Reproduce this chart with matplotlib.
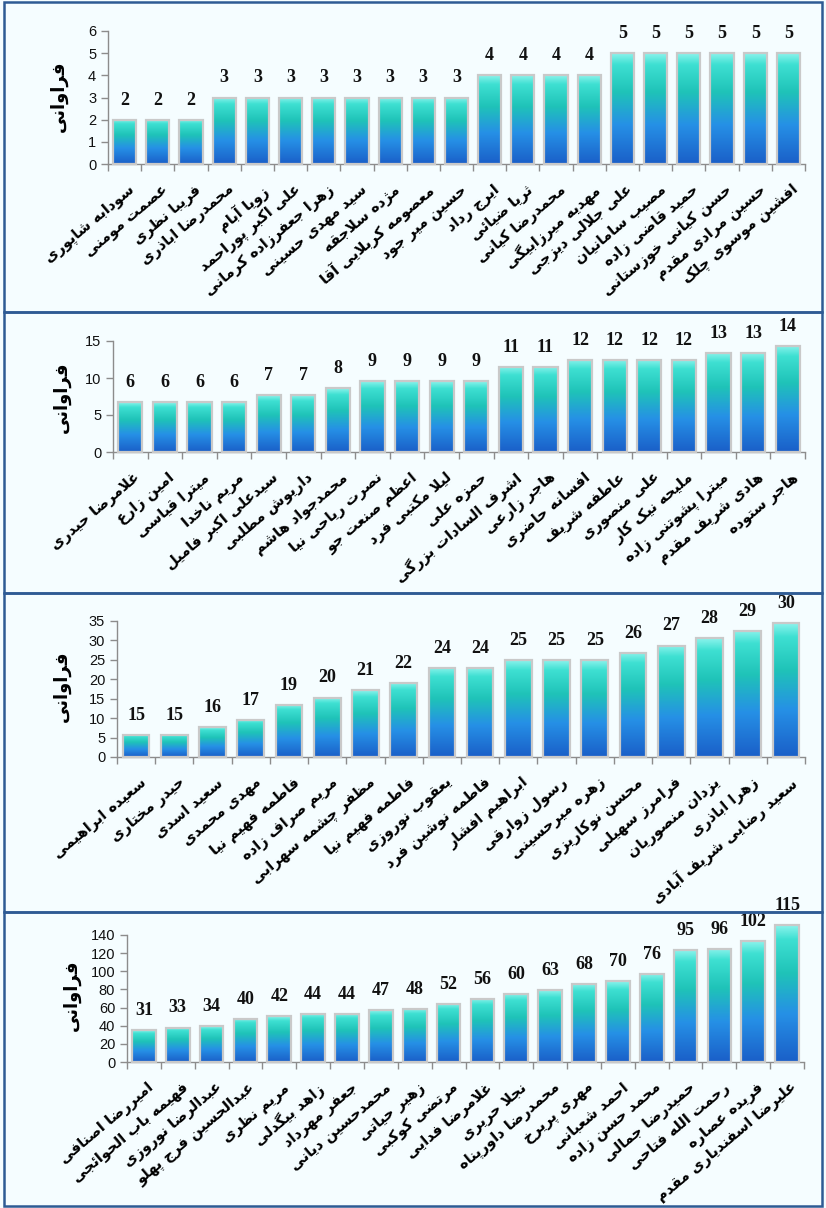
import matplotlib
matplotlib.use("Agg")
import matplotlib.pyplot as plt
import numpy as np
from matplotlib.colors import LinearSegmentedColormap
from matplotlib.patches import Rectangle
import matplotlib.transforms as mtransforms

# ---------------- data ----------------
names1 = ["سودابه شاپوری", "عصمت مومنی", "فریبا نظری", "محمدرضا اباذری", "زویا آبام",
          "علی اکبر پوراحمد", "زهرا جعفرزاده کرمانی", "سید مهدی حسینی", "مژده سلاجقه",
          "معصومه کربلایی آقا", "حسین میر جود", "ایرج رداد", "ثریا ضیائی", "محمدرضا کیانی",
          "مهدیه میرزابیگی", "علی جلالی دیزجی", "مصیب سامانیان", "حمید قاضی زاده",
          "حسن کیانی خوزستانی", "حسین مرادی مقدم", "افشین موسوی چلک"]
values1 = [2, 2, 2, 3, 3, 3, 3, 3, 3, 3, 3, 4, 4, 4, 4, 5, 5, 5, 5, 5, 5]

names2 = ["غلامرضا حیدری", "امین زارع", "میترا قیاسی", "مریم ناخدا", "سیدعلی اکبر فامیل",
          "داریوش مطلبی", "محمدجواد هاشم", "نصرت ریاحی نیا", "اعظم صنعت جو", "لیلا مکتبی فرد",
          "حمزه علی", "اشرف السادات بزرگی", "هاجر زارعی", "افسانه حاضری", "عاطفه شریف",
          "علی منصوری", "ملیحه نیک کار", "میترا پشوتنی زاده", "هادی شریف مقدم", "هاجر ستوده"]
values2 = [6, 6, 6, 6, 7, 7, 8, 9, 9, 9, 9, 11, 11, 12, 12, 12, 12, 13, 13, 14]

names3 = ["سعیده ابراهیمی", "حیدر مختاری", "سعید اسدی", "مهدی محمدی", "فاطمه فهیم نیا",
          "مریم صراف زاده", "مظفر چشمه سهرابی", "فاطمه فهیم نیا", "یعقوب نوروزی",
          "فاطمه نوشین فرد", "ابراهیم افشار", "رسول زوارقی", "زهره میرحسینی", "محسن نوکاریزی",
          "فرامرز سهیلی", "یزدان منصوریان", "زهرا اباذری", "سعید رضایی شریف آبادی"]
values3 = [15, 15, 16, 17, 19, 20, 21, 22, 24, 24, 25, 25, 25, 26, 27, 28, 29, 30]

names4 = ["امیررضا اصنافی", "فهیمه باب الحوائجی", "عبدالرضا نوروزی", "عبدالحسین فرج پهلو",
          "مریم نظری", "زاهد بیگدلی", "جعفر مهرداد", "محمدحسین دیانی", "زهیر حیاتی",
          "مرتضی کوکبی", "غلامرضا فدایی", "نجلا حریری", "محمدرضا داورپناه", "مهری پریرخ",
          "احمد شعبانی", "محمد حسن زاده", "حمیدرضا جمالی", "رحمت الله فتاحی", "فریده عصاره",
          "علیرضا اسفندیاری مقدم"]
values4 = [31, 33, 34, 40, 42, 44, 44, 47, 48, 52, 56, 60, 63, 68, 70, 76, 95, 96, 102, 115]

y_label = "فراوانی"
y_maxes = [6, 15, 35, 140]
y_steps = [1, 5, 5, 20]
# value range spanned by the bars' own (unlabelled) scale in each panel
bar_ranges = [(0, 6), (-1.1, 14.7), (12.0, 30.3), (5.4, 107.0)]

# ---------------- Persian shaping ----------------
F = {
    '\u0627': ('\uFE8D', '\uFE8E', None, None),
    '\u0622': ('\uFE81', '\uFE82', None, None),
    '\u0623': ('\uFE83', '\uFE84', None, None),
    '\u0624': ('\uFE85', '\uFE86', None, None),
    '\u0625': ('\uFE87', '\uFE88', None, None),
    '\u0626': ('\uFE89', '\uFE8A', '\uFE8B', '\uFE8C'),
    '\u0628': ('\uFE8F', '\uFE90', '\uFE91', '\uFE92'),
    '\u0629': ('\uFE93', '\uFE94', None, None),
    '\u062A': ('\uFE95', '\uFE96', '\uFE97', '\uFE98'),
    '\u062B': ('\uFE99', '\uFE9A', '\uFE9B', '\uFE9C'),
    '\u062C': ('\uFE9D', '\uFE9E', '\uFE9F', '\uFEA0'),
    '\u062D': ('\uFEA1', '\uFEA2', '\uFEA3', '\uFEA4'),
    '\u062E': ('\uFEA5', '\uFEA6', '\uFEA7', '\uFEA8'),
    '\u062F': ('\uFEA9', '\uFEAA', None, None),
    '\u0630': ('\uFEAB', '\uFEAC', None, None),
    '\u0631': ('\uFEAD', '\uFEAE', None, None),
    '\u0632': ('\uFEAF', '\uFEB0', None, None),
    '\u0633': ('\uFEB1', '\uFEB2', '\uFEB3', '\uFEB4'),
    '\u0634': ('\uFEB5', '\uFEB6', '\uFEB7', '\uFEB8'),
    '\u0635': ('\uFEB9', '\uFEBA', '\uFEBB', '\uFEBC'),
    '\u0636': ('\uFEBD', '\uFEBE', '\uFEBF', '\uFEC0'),
    '\u0637': ('\uFEC1', '\uFEC2', '\uFEC3', '\uFEC4'),
    '\u0638': ('\uFEC5', '\uFEC6', '\uFEC7', '\uFEC8'),
    '\u0639': ('\uFEC9', '\uFECA', '\uFECB', '\uFECC'),
    '\u063A': ('\uFECD', '\uFECE', '\uFECF', '\uFED0'),
    '\u0641': ('\uFED1', '\uFED2', '\uFED3', '\uFED4'),
    '\u0642': ('\uFED5', '\uFED6', '\uFED7', '\uFED8'),
    '\u0643': ('\uFED9', '\uFEDA', '\uFEDB', '\uFEDC'),
    '\u0644': ('\uFEDD', '\uFEDE', '\uFEDF', '\uFEE0'),
    '\u0645': ('\uFEE1', '\uFEE2', '\uFEE3', '\uFEE4'),
    '\u0646': ('\uFEE5', '\uFEE6', '\uFEE7', '\uFEE8'),
    '\u0647': ('\uFEE9', '\uFEEA', '\uFEEB', '\uFEEC'),
    '\u0648': ('\uFEED', '\uFEEE', None, None),
    '\u0649': ('\uFEEF', '\uFEF0', None, None),
    '\u064A': ('\uFEF1', '\uFEF2', '\uFEF3', '\uFEF4'),
    '\u067E': ('\uFB56', '\uFB57', '\uFB58', '\uFB59'),
    '\u0686': ('\uFB7A', '\uFB7B', '\uFB7C', '\uFB7D'),
    '\u0698': ('\uFB8A', '\uFB8B', None, None),
    '\u06A9': ('\uFB8E', '\uFB8F', '\uFB90', '\uFB91'),
    '\u06AF': ('\uFB92', '\uFB93', '\uFB94', '\uFB95'),
    '\u06CC': ('\uFBFC', '\uFBFD', '\uFBFE', '\uFBFF'),
    '\uFEFB': ('\uFEFB', '\uFEFC', None, None),
    '\uFEF5': ('\uFEF5', '\uFEF6', None, None),
}


def shape_line(s):
    s = s.replace('\u0644\u0627', '\uFEFB').replace('\u0644\u0622', '\uFEF5')
    out = []
    n = len(s)
    for i, c in enumerate(s):
        if c not in F:
            out.append(c)
            continue
        prev = s[i - 1] if i > 0 else None
        nxt = s[i + 1] if i < n - 1 else None
        jp = prev in F and F[prev][2] is not None
        jn = nxt in F and F[c][2] is not None
        iso, fin, ini, med = F[c]
        if jp and jn:
            out.append(med)
        elif jp:
            out.append(fin)
        elif jn:
            out.append(ini)
        else:
            out.append(iso)
    return ''.join(out)[::-1]


def fa(s):
    return '\n'.join(shape_line(line) for line in s.split('\n'))


# ---------------- figure ----------------
W, H = 826, 1208
fig = plt.figure(figsize=(W / 100, H / 100), dpi=100)
bg = '#F5FDFF'
fig.patch.set_facecolor(bg)

cmap = LinearSegmentedColormap.from_list(
    'bar', [(0.0, '#1A5FC8'), (0.35, '#2690E6'), (0.65, '#1FC3B8'),
            (0.9, '#3EE0D2'), (1.0, '#8AF3EC')])
grad = np.linspace(0, 1, 128).reshape(-1, 1)

panels = [
    (names1, values1, (108, 805, 31, 164), (59, 96)),
    (names2, values2, (113, 805, 341, 452), (62, 397)),
    (names3, values3, (117, 805, 621, 757), (62, 686)),
    (names4, values4, (127, 804, 935, 1062), (72, 995)),
]
frames = [(4, 2, 822, 312), (4, 312, 822, 593), (4, 593, 822, 912), (4, 912, 822, 1206)]

for (x0, y0, x1, y1) in frames:
    fig.patches.append(Rectangle((x0 / W, 1 - y1 / H), (x1 - x0) / W, (y1 - y0) / H,
                                 transform=fig.transFigure, fill=False,
                                 edgecolor='#2E5B94', linewidth=1.8, zorder=0))

for k, (names, vals, (l, r, t, b), (ylx, yly)) in enumerate(panels):
    rect_ax = [l / W, 1 - b / H, (r - l) / W, (b - t) / H]
    ax = fig.add_axes(rect_ax)
    ax.set_facecolor('none')
    n = len(vals)
    x = np.arange(n)
    bw = 0.7
    lo, hi = bar_ranges[k]
    bars = ax.bar(x, [v - lo for v in vals], bottom=lo, width=bw, color='none',
                  edgecolor='#C9C9C9', linewidth=1.6, zorder=3, clip_on=False)
    for rect in bars:
        bx, by, bh = rect.get_x(), rect.get_y(), rect.get_height()
        im = ax.imshow(grad, extent=[bx, bx + bw, by, by + bh], origin='lower',
                       aspect='auto', cmap=cmap, zorder=2, interpolation='bilinear')
        im.set_clip_path(rect)
        im.set_clip_on(True)
    for i, v in enumerate(vals):
        ax.annotate(str(v), (i, v), xytext=(0, 8), textcoords='offset points',
                    ha='center', va='bottom', fontfamily='Liberation Serif',
                    fontweight='bold', fontsize=13, color='#111111', annotation_clip=False)
    ax.set_xlim(-0.5, n - 0.5)
    ax.set_ylim(lo, hi)
    ax.set_yticks([])
    ax.set_xticks(np.arange(-0.5, n, 1.0))
    ax.set_xticklabels([])
    for s in ['top', 'right', 'left']:
        ax.spines[s].set_visible(False)
    ax.spines['bottom'].set_color('#8C8C8C')
    ax.spines['bottom'].set_linewidth(1.0)
    ax.tick_params(axis='x', colors='#8C8C8C', length=5, width=1.0)

    # value axis shown at the left
    ay = fig.add_axes(rect_ax)
    ay.set_facecolor('none')
    ay.patch.set_visible(False)
    ay.set_ylim(0, y_maxes[k])
    ay.set_yticks(np.arange(0, y_maxes[k] + 1, y_steps[k]))
    ay.set_xticks([])
    for s in ['top', 'right', 'bottom']:
        ay.spines[s].set_visible(False)
    ay.spines['left'].set_color('#8C8C8C')
    ay.spines['left'].set_linewidth(1.0)
    ay.tick_params(axis='y', colors='#8C8C8C', length=5, width=1.0,
                   labelcolor='#111111', labelsize=10.5)
    for lab in ay.get_yticklabels():
        lab.set_fontfamily('Liberation Sans')

    for i, nm in enumerate(names):
        ax.annotate(fa(nm), (i + 0.1, 0), xycoords=('data', 'axes fraction'),
                    xytext=(0, -13), textcoords='offset points', rotation=40,
                    rotation_mode='anchor', ha='right', va='top', fontsize=10.5,
                    fontweight='bold', fontfamily='DejaVu Sans', color='#000000',
                    annotation_clip=False)
    fig.text(ylx / W, 1 - yly / H, fa(y_label), rotation=90, ha='center', va='center',
             fontsize=13, fontweight='bold', fontfamily='DejaVu Sans')

fig.savefig('out.png', dpi=100, facecolor=bg)
